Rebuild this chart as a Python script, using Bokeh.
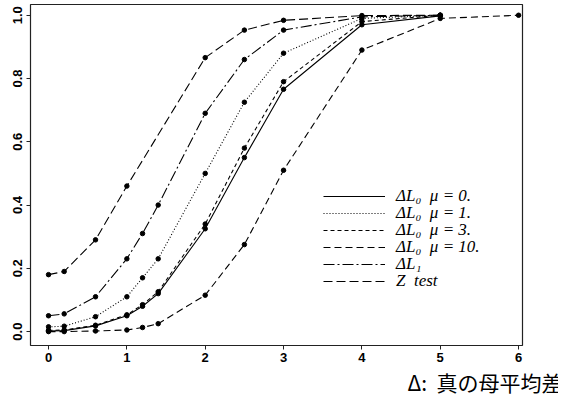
from bokeh.plotting import figure
from bokeh.models import Range1d, Legend, LegendItem, Title, FixedTicker
from bokeh.embed import file_html
from bokeh.resources import INLINE

# ---- data ----
x_l0 = [0, 0.2, 0.6, 1.0, 1.2, 1.4, 2.0, 2.5, 3.0, 4.0, 5.0]
mu0 = [0.002, 0.003, 0.018, 0.05, 0.08, 0.12, 0.325, 0.55, 0.766, 0.97, 0.998]
mu1 = [0.015, 0.017, 0.047, 0.11, 0.17, 0.23, 0.50, 0.725, 0.88, 0.99, 1.0]
mu3 = [0.004, 0.005, 0.02, 0.053, 0.085, 0.126, 0.34, 0.58, 0.79, 0.98, 1.0]

x_mu10 = [0, 0.2, 0.6, 1.0, 1.2, 1.4, 2.0, 2.5, 3.0, 4.0, 5.0, 6.0]
mu10 = [0.0, 0.0, 0.002, 0.005, 0.013, 0.025, 0.115, 0.275, 0.51, 0.89, 0.99, 1.0]

x_l1 = [0, 0.2, 0.6, 1.0, 1.2, 1.4, 2.0, 2.5, 3.0, 4.0, 5.0]
l1 = [0.05, 0.056, 0.11, 0.23, 0.31, 0.40, 0.69, 0.86, 0.953, 0.995, 1.0]

x_z = [0, 0.2, 0.6, 1.0, 2.0, 2.5, 3.0, 4.0, 5.0]
ztest = [0.18, 0.19, 0.29, 0.46, 0.866, 0.953, 0.984, 0.999, 1.0]

x_ticks = [0, 1, 2, 3, 4, 5, 6]
y_ticks = [0.0, 0.2, 0.4, 0.6, 0.8, 1.0]
y_tick_labels = ["0.0", "0.2", "0.4", "0.6", "0.8", "1.0"]

labels = ["ΔL₀  μ = 0.", "ΔL₀  μ = 1.", "ΔL₀  μ = 3.", "ΔL₀  μ = 10.", "ΔL₁", "Z  test"]
xlabel = "Δ:\u00a0\u00a0真の母平均差"

# ---- figure ----
p = figure(width=558, height=396, output_backend="svg", toolbar_location=None,
           x_range=Range1d(-0.23, 6.05), y_range=Range1d(-0.044, 1.034),
           min_border_left=30, min_border_right=36, min_border_top=4, min_border_bottom=47)
p.background_fill_color = "white"
p.border_fill_color = "white"
p.outline_line_color = "#222222"
p.outline_line_width = 1.2
p.xgrid.visible = False
p.ygrid.visible = False

for ax in (p.xaxis[0], p.yaxis[0]):
    ax.axis_line_color = None
    ax.major_tick_out = 4
    ax.major_tick_in = 0
    ax.minor_tick_line_color = None
    ax.major_tick_line_color = "#222222"
    ax.major_label_text_font = "Liberation Sans"
    ax.major_label_text_font_style = "bold"
    ax.major_label_text_font_size = "13px"
    ax.major_label_text_color = "black"

p.xaxis[0].ticker = FixedTicker(ticks=x_ticks)
p.xaxis[0].major_label_standoff = 3
p.yaxis[0].ticker = FixedTicker(ticks=y_ticks)
p.yaxis[0].major_label_overrides = {t: s for t, s in zip(y_ticks, y_tick_labels)}
p.yaxis[0].major_label_orientation = "vertical"
p.yaxis[0].major_label_standoff = 4

styles = [
    (x_l0, mu0, "solid"),
    (x_l0, mu1, "1 2"),
    (x_l0, mu3, "4 3"),
    (x_mu10, mu10, "7 4"),
    (x_l1, l1, "11 3 2 3"),
    (x_z, ztest, "9 4"),
]

# legend rows: one small legend per entry so the rows can sit close together
row_bottoms = [139, 122, 105, 88, 71, 54]

for (xs, ys, dash), lab, yb in zip(styles, labels, row_bottoms):
    r = p.line(xs, ys, line_color="black", line_width=1.1, line_dash=dash)
    p.scatter(xs, ys, size=4.5, color="black")
    lg = Legend(items=[LegendItem(label=lab, renderers=[r])], location=(293, yb),
                glyph_width=62, glyph_height=14, label_height=14,
                label_standoff=11, padding=0, margin=0,
                border_line_color=None, background_fill_alpha=0,
                label_text_font="Liberation Serif", label_text_font_style="italic",
                label_text_font_size="17px", label_text_color="black")
    p.add_layout(lg, "center")

title = Title(text=xlabel, align="right", offset=-40, text_font="Noto Sans CJK JP",
              text_font_size="21px", text_font_style="normal",
              text_color="black", standoff=0)
p.add_layout(title, "below")

open("out.html", "w").write(file_html(p, INLINE))
